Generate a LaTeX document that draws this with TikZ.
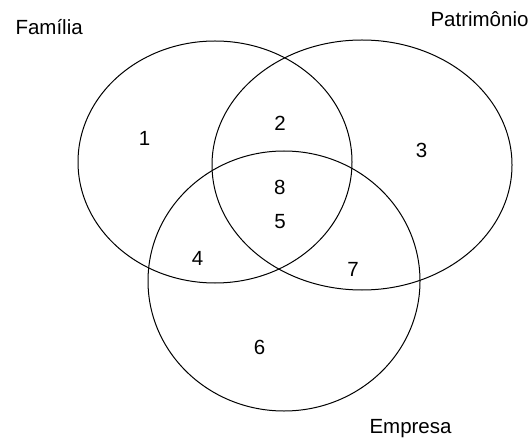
\documentclass[tikz,border=0pt]{standalone}
\usepackage{fontspec}
\setmainfont{Liberation Sans}
\begin{document}
\begin{tikzpicture}[x=1pt,y=-1pt,line width=1pt,
    conjunto/.style={draw=black},
    rotulo/.style={inner sep=0pt,anchor=base west,font=\fontsize{20.5}{24}\selectfont},
    regiao/.style={inner sep=0pt,anchor=base,font=\fontsize{20.5}{24}\selectfont}]
    \useasboundingbox (0,0) rectangle (529,438);
    % centros dos conjuntos
    \coordinate (cfam) at (215,162);
    \coordinate (cpat) at (362,165);
    \coordinate (cemp) at (284,281);
    \draw[conjunto] (cfam) ellipse [x radius=137pt,y radius=121pt];
    \draw[conjunto] (cpat) ellipse [x radius=150pt,y radius=125pt];
    \draw[conjunto] (cemp) ellipse [x radius=136pt,y radius=130pt];
    % nomes dos conjuntos
    \node[rotulo] (familia) at (15,35) {Família};
    \node[rotulo] (patrimonio) at (430,27) {Patrimônio};
    \node[rotulo] (empresa) at (369,433) {Empresa};
    % regioes
    \node[regiao] (r1) at (144.6,146) {1};
    \node[regiao] (r2) at (280,131) {2};
    \node[regiao] (r3) at (421.6,158) {3};
    \node[regiao] (r4) at (197.6,265) {4};
    \node[regiao] (r5) at (280,228) {5};
    \node[regiao] (r6) at (259.5,354) {6};
    \node[regiao] (r7) at (353,276) {7};
    \node[regiao] (r8) at (279.7,194) {8};
\end{tikzpicture}
\end{document}
